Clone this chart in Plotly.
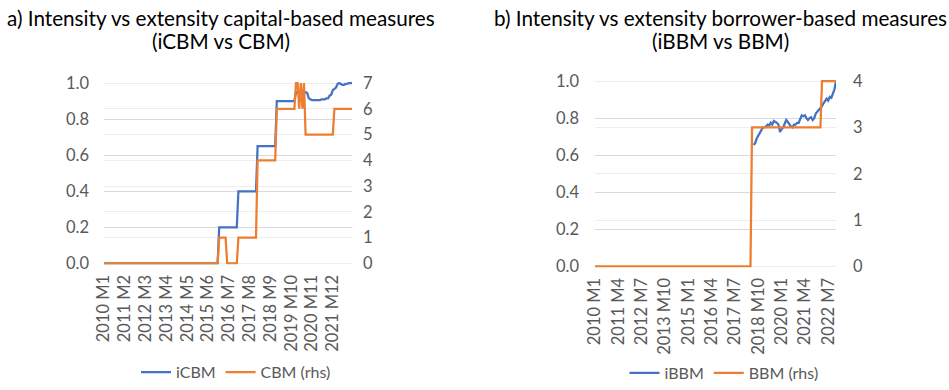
import plotly.graph_objects as go

# ---------------- data ----------------
years = list(range(2010, 2023))
months = [f"{y} M{m}" for y in years for m in range(1, 13)]  # 2010 M1 .. 2022 M12

# Panel a: intensity (iCBM, lhs) vs extensity (CBM, rhs); one row per year
iCBM = [
    0, 0, 0, 0, 0, 0, 0, 0, 0, 0, 0, 0,                       # 2010
    0, 0, 0, 0, 0, 0, 0, 0, 0, 0, 0, 0,                       # 2011
    0, 0, 0, 0, 0, 0, 0, 0, 0, 0, 0, 0,                       # 2012
    0, 0, 0, 0, 0, 0, 0, 0, 0, 0, 0, 0,                       # 2013
    0, 0, 0, 0, 0, 0, 0, 0, 0, 0, 0, 0,                       # 2014
    0, 0, 0, 0, 0, 0, 0, 0, 0, 0, 0, 0,                       # 2015
    0.2, 0.2, 0.2, 0.2, 0.2, 0.2, 0.2, 0.2, 0.2, 0.2, 0.2, 0.2,  # 2016
    0.4, 0.4, 0.4, 0.4, 0.4, 0.4, 0.4, 0.4, 0.4, 0.4, 0.4, 0.4,  # 2017
    0.65, 0.65, 0.65, 0.65, 0.65, 0.65, 0.65, 0.65, 0.65, 0.65, 0.65, 0.65,  # 2018
    0.9, 0.9, 0.9, 0.9, 0.9, 0.9, 0.9, 0.9, 0.9, 0.9, 0.9, 0.9,  # 2019
    0.95, 0.95, 0.945, 0.94, 0.95, 0.95, 0.95, 0.945, 0.915, 0.91, 0.905, 0.905,  # 2020
    0.905, 0.905, 0.905, 0.905, 0.91, 0.91, 0.91, 0.915, 0.915, 0.93, 0.935, 0.96,  # 2021
    0.97, 0.975, 0.995, 1.0, 0.995, 0.99, 0.99, 0.995, 0.995, 1.0, 1.0, 1.0,  # 2022
]
CBM = [
    0, 0, 0, 0, 0, 0, 0, 0, 0, 0, 0, 0,   # 2010
    0, 0, 0, 0, 0, 0, 0, 0, 0, 0, 0, 0,   # 2011
    0, 0, 0, 0, 0, 0, 0, 0, 0, 0, 0, 0,   # 2012
    0, 0, 0, 0, 0, 0, 0, 0, 0, 0, 0, 0,   # 2013
    0, 0, 0, 0, 0, 0, 0, 0, 0, 0, 0, 0,   # 2014
    0, 0, 0, 0, 0, 0, 0, 0, 0, 0, 0, 0,   # 2015
    1, 1, 1, 1, 1, 0, 0, 0, 0, 0, 0, 0,   # 2016
    1, 1, 1, 1, 1, 1, 1, 1, 1, 1, 1, 1,   # 2017
    4, 4, 4, 4, 4, 4, 4, 4, 4, 4, 4, 4,   # 2018
    6, 6, 6, 6, 6, 6, 6, 6, 6, 6, 6, 6,   # 2019
    7, 7, 6, 7, 6, 7, 5, 5, 5, 5, 5, 5,   # 2020
    5, 5, 5, 5, 5, 5, 5, 5, 5, 5, 5, 5,   # 2021
    6, 6, 6, 6, 6, 6, 6, 6, 6, 6, 6, 6,   # 2022
]

# Panel b: intensity (iBBM, lhs; no value before the first measure) vs extensity (BBM, rhs)
iBBM = [
    None, None, None, None, None, None, None, None, None, None, None, None,  # 2010
    None, None, None, None, None, None, None, None, None, None, None, None,  # 2011
    None, None, None, None, None, None, None, None, None, None, None, None,  # 2012
    None, None, None, None, None, None, None, None, None, None, None, None,  # 2013
    None, None, None, None, None, None, None, None, None, None, None, None,  # 2014
    None, None, None, None, None, None, None, None, None, None, None, None,  # 2015
    None, None, None, None, None, None, None, None, None, None, None, None,  # 2016
    None, None, None, None, None, None, None, None, None, None, None, None,  # 2017
    None, None, None, None, None, None, 0.655, 0.665, 0.69, 0.705, 0.725, 0.74,  # 2018
    0.75, 0.75, 0.755, 0.765, 0.76, 0.775, 0.765, 0.785, 0.78, 0.775, 0.765, 0.725,  # 2019
    0.74, 0.75, 0.77, 0.79, 0.78, 0.765, 0.755, 0.75, 0.765, 0.765, 0.775, 0.775,  # 2020
    0.80, 0.815, 0.81, 0.815, 0.80, 0.79, 0.80, 0.805, 0.79, 0.80, 0.825, 0.835,  # 2021
    0.84, 0.85, 0.865, 0.88, 0.895, 0.905, 0.895, 0.915, 0.91, 0.93, 0.955, 1.0,  # 2022
]
BBM = [
    0, 0, 0, 0, 0, 0, 0, 0, 0, 0, 0, 0,   # 2010
    0, 0, 0, 0, 0, 0, 0, 0, 0, 0, 0, 0,   # 2011
    0, 0, 0, 0, 0, 0, 0, 0, 0, 0, 0, 0,   # 2012
    0, 0, 0, 0, 0, 0, 0, 0, 0, 0, 0, 0,   # 2013
    0, 0, 0, 0, 0, 0, 0, 0, 0, 0, 0, 0,   # 2014
    0, 0, 0, 0, 0, 0, 0, 0, 0, 0, 0, 0,   # 2015
    0, 0, 0, 0, 0, 0, 0, 0, 0, 0, 0, 0,   # 2016
    0, 0, 0, 0, 0, 0, 0, 0, 0, 0, 0, 0,   # 2017
    0, 0, 0, 0, 0, 3, 3, 3, 3, 3, 3, 3,   # 2018
    3, 3, 3, 3, 3, 3, 3, 3, 3, 3, 3, 3,   # 2019
    3, 3, 3, 3, 3, 3, 3, 3, 3, 3, 3, 3,   # 2020
    3, 3, 3, 3, 3, 3, 3, 3, 3, 3, 3, 3,   # 2021
    3, 3, 4, 4, 4, 4, 4, 4, 4, 4, 4, 4,   # 2022
]

ticks_a = months[::13]   # 2010 M1, 2011 M2, ... 2021 M12
ticks_b = months[::15]   # 2010 M1, 2011 M4, ... 2022 M7

title_a = ["a) Intensity vs extensity capital-based measures", "(iCBM vs CBM)"]
title_b = ["b) Intensity vs extensity borrower-based measures", "(iBBM vs BBM)"]

# ---------------- style ----------------
W, H = 949, 390
BLUE = "#4472C4"
ORANGE = "#ED7D31"
GRID1 = "#d9d9d9"
GRID2 = "#ededed"
TXT = "#595959"
FONT = "Lato"
TICK = 16.5

def px(x):
    return x / W

def py(y):
    return 1 - y / H

fig = go.Figure()
fig.add_trace(go.Scatter(x=months, y=iCBM, name="iCBM", mode="lines",
                         line=dict(color=BLUE, width=2.25), xaxis="x", yaxis="y",
                         legend="legend"))
fig.add_trace(go.Scatter(x=months, y=CBM, name="CBM (rhs)", mode="lines",
                         line=dict(color=ORANGE, width=2.25), xaxis="x", yaxis="y2",
                         legend="legend"))
fig.add_trace(go.Scatter(x=months, y=iBBM, name="iBBM", mode="lines",
                         line=dict(color=BLUE, width=2.25), xaxis="x2", yaxis="y3",
                         legend="legend2"))
fig.add_trace(go.Scatter(x=months, y=BBM, name="BBM (rhs)", mode="lines",
                         line=dict(color=ORANGE, width=2.25), xaxis="x2", yaxis="y4",
                         legend="legend2"))

n = len(months)
xcommon = dict(type="category", categoryorder="array", categoryarray=months,
               range=[0, n - 1], showgrid=False, zeroline=False, showline=False,
               ticks="", tickangle=-90, tickfont=dict(family=FONT, size=TICK, color=TXT),
               automargin=False, fixedrange=True, ticklabelstandoff=6)
ycommon = dict(showline=False, zeroline=False, ticks="",
               tickfont=dict(family=FONT, size=TICK, color=TXT), automargin=False)

pad = 0.006
titles = []
for cx, lines in ((221, title_a), (720, title_b)):
    for ly, txt in zip((18, 42), lines):
        titles.append(dict(text=txt, x=px(cx), y=py(ly), xref="paper", yref="paper",
                           xanchor="center", yanchor="middle", showarrow=False,
                           font=dict(family=FONT, size=20.7, color="#000000")))

fig.update_layout(
    width=W, height=H, autosize=False,
    margin=dict(l=0, r=0, t=0, b=0),
    paper_bgcolor="white", plot_bgcolor="white",
    font=dict(family=FONT, color=TXT),
    xaxis=dict(xcommon, domain=[px(104), px(352)], anchor="y",
               tickvals=ticks_a, ticktext=ticks_a),
    yaxis=dict(ycommon, domain=[py(268), py(83)], anchor="x",
               range=[-pad, 1 + pad], tickvals=[0, 0.2, 0.4, 0.6, 0.8, 1.0],
               tickformat=".1f", gridcolor=GRID1, ticklabelstandoff=14),
    yaxis2=dict(ycommon, overlaying="y", side="right", anchor="x",
                range=[-pad * 7, 7 * (1 + pad)], tickvals=list(range(0, 8)),
                gridcolor=GRID2, ticklabelstandoff=10),
    xaxis2=dict(xcommon, domain=[px(595), px(836)], anchor="y3",
                tickvals=ticks_b, ticktext=ticks_b),
    yaxis3=dict(ycommon, domain=[py(271), py(81)], anchor="x2",
                range=[-pad, 1 + pad], tickvals=[0, 0.2, 0.4, 0.6, 0.8, 1.0],
                tickformat=".1f", gridcolor=GRID1, ticklabelstandoff=15),
    yaxis4=dict(ycommon, overlaying="y3", side="right", anchor="x2",
                range=[-pad * 4, 4 * (1 + pad)], tickvals=list(range(0, 5)),
                gridcolor=GRID2, ticklabelstandoff=16),
    legend=dict(orientation="h", x=px(236), xanchor="center", y=py(377), yanchor="middle",
                font=dict(family=FONT, size=16, color=TXT), bgcolor="rgba(0,0,0,0)"),
    legend2=dict(orientation="h", x=px(724), xanchor="center", y=py(378), yanchor="middle",
                 font=dict(family=FONT, size=16, color=TXT), bgcolor="rgba(0,0,0,0)"),
    annotations=titles,
)

fig.write_html("out.html", config={"displayModeBar": False},
               post_script="document.body.style.margin='0px';")
